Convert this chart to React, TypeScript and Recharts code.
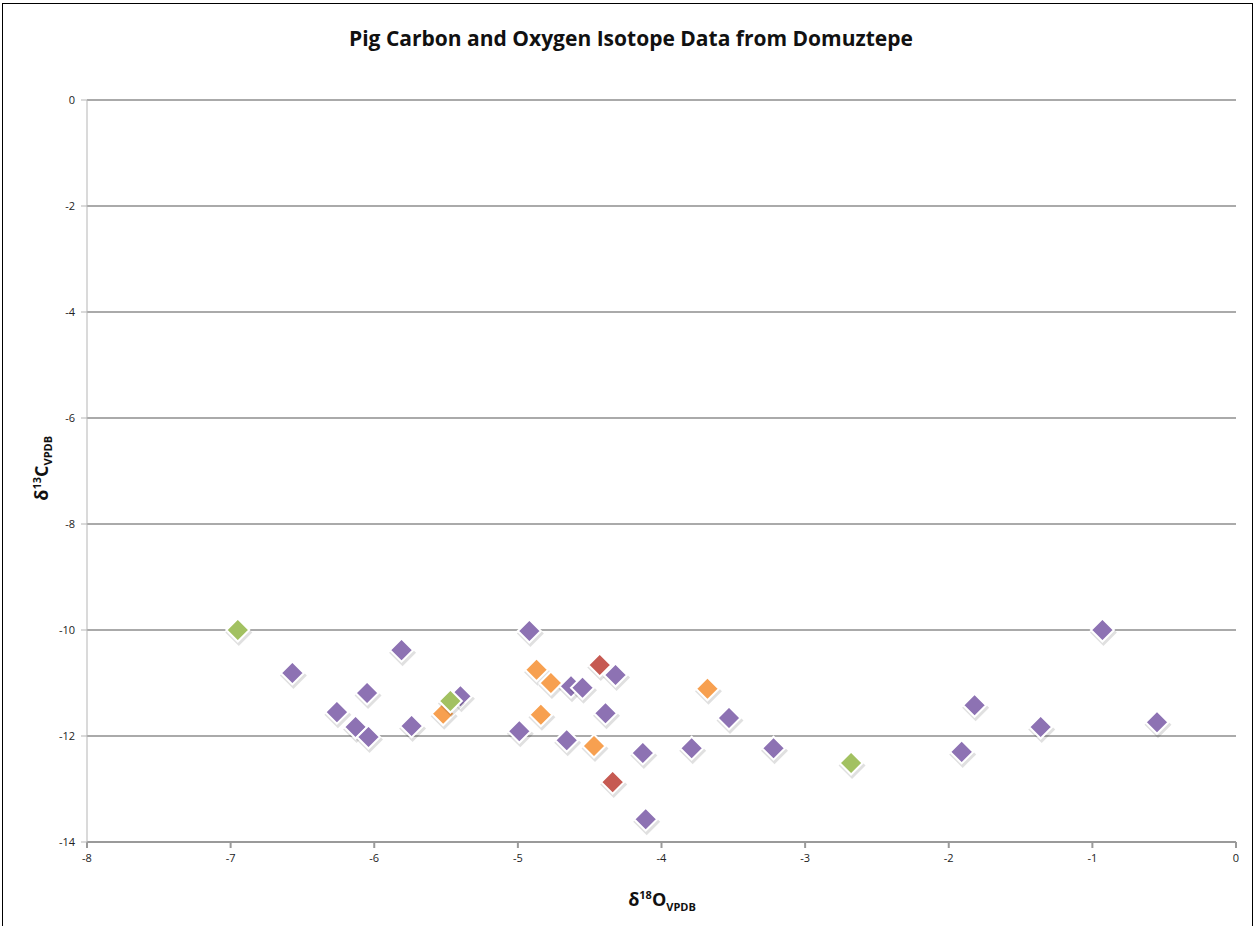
import { ScatterChart, Scatter, XAxis, YAxis, CartesianGrid } from "recharts"

// tick labels
const oxygenTicks = [-8, -7, -6, -5, -4, -3, -2, -1, 0]
const carbonTicks = [-14, -12, -10, -8, -6, -4, -2, 0]

// δ18O / δ13C values read per group
const purpleO = [-6.57, -5.81, -6.05, -6.26, -6.13, -6.04, -5.74, -5.4, -4.92, -4.99, -4.66, -4.63, -4.55, -4.32, -4.39, -4.13, -4.11, -3.79, -3.53, -3.22, -0.93, -1.82, -1.91, -1.36, -0.55]
const purpleC = [-10.81, -10.38, -11.19, -11.55, -11.83, -12.02, -11.81, -11.25, -10.02, -11.91, -12.08, -11.06, -11.09, -10.85, -11.57, -12.32, -13.57, -12.23, -11.66, -12.23, -10.0, -11.42, -12.3, -11.83, -11.74]

const orangeO = [-5.52, -4.87, -4.77, -4.84, -4.47, -3.68]
const orangeC = [-11.58, -10.75, -11.0, -11.6, -12.19, -11.11]

const redO = [-4.43, -4.34]
const redC = [-10.66, -12.87]

const greenO = [-6.95, -5.47, -2.68]
const greenC = [-10.0, -11.34, -12.51]

const zip = (o: number[], c: number[]) => o.map((x, i) => ({ o: x, c: c[i] }))

const diamond = (fill: string) => (props: any) => {
  const { cx, cy } = props
  const pts = (dx: number, dy: number, s: number) =>
    `${cx + dx},${cy + dy - s} ${cx + dx + s},${cy + dy} ${cx + dx},${cy + dy + s} ${cx + dx - s},${cy + dy}`
  return (
    <g>
      <polygon points={pts(1, 2.5, 13.5)} fill="#000" opacity={0.12} />
      <polygon points={pts(0, 0, 11.5)} fill={fill} stroke="#fff" strokeWidth={2} />
    </g>
  )
}

const tickStyle = { fontSize: 11, fill: "#222", fontFamily: "Open Sans, sans-serif" }

export default function App() {
  return (
    <div style={{ position: "absolute", left: 0, top: 0, width: 1255, height: 926, background: "#fff", overflow: "hidden", fontFamily: "Open Sans, sans-serif" }}>
      <div style={{ position: "absolute", left: 2, top: 3, width: 1249, height: 940, border: "1px solid #000" }} />
      <div style={{ position: "absolute", left: 0, width: 1262, top: 24, textAlign: "center", fontWeight: 700, fontSize: 21, color: "#111" }}>
        Pig Carbon and Oxygen Isotope Data from Domuztepe
      </div>
      <ScatterChart width={1255} height={926} margin={{ top: 100, right: 19, bottom: 0, left: 0 }}>
        <CartesianGrid vertical={false} stroke="#8e8e8e" strokeWidth={1.5} />
        <XAxis
          type="number"
          dataKey="o"
          domain={[-8, 0]}
          ticks={oxygenTicks}
          height={84}
          stroke="#9a9a9a"
          strokeWidth={2}
          tickSize={6}
          tick={tickStyle}
          tickMargin={6}
        />
        <YAxis
          type="number"
          dataKey="c"
          domain={[-14, 0]}
          ticks={carbonTicks}
          width={87}
          stroke="#b5b5b5"
          tickSize={6}
          tick={tickStyle}
          tickMargin={6}
        />
        <Scatter data={zip(redO, redC)} shape={diamond("#c65a52")} isAnimationActive={false} />
        <Scatter data={zip(orangeO, orangeC)} shape={diamond("#f7a050")} isAnimationActive={false} />
        <Scatter data={zip(purpleO, purpleC)} shape={diamond("#8d72b3")} isAnimationActive={false} />
        <Scatter data={zip(greenO, greenC)} shape={diamond("#a2c161")} isAnimationActive={false} />
      </ScatterChart>
      <div style={{ position: "absolute", left: 612, top: 887, width: 100, textAlign: "center", fontWeight: 700, fontSize: 18, color: "#111" }}>
        δ<sup style={{ fontSize: 11 }}>18</sup>O<sub style={{ fontSize: 11 }}>VPDB</sub>
      </div>
      <div style={{ position: "absolute", left: -8, top: 455, width: 100, textAlign: "center", fontWeight: 700, fontSize: 18, color: "#111", transform: "rotate(-90deg)" }}>
        δ<sup style={{ fontSize: 11 }}>13</sup>C<sub style={{ fontSize: 11 }}>VPDB</sub>
      </div>
    </div>
  )
}
